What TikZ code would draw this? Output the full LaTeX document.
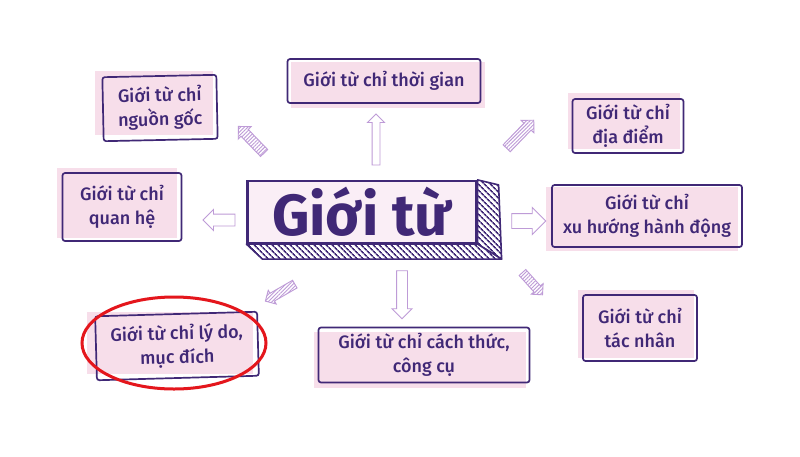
\documentclass[tikz,border=0pt]{standalone}
\usepackage{fontspec}
\setmainfont{Fira Sans Medium}[BoldFont={Fira Sans Bold}]
\usetikzlibrary{shapes.arrows,shapes.geometric,patterns.meta,backgrounds,calc}
\definecolor{ink}{RGB}{64,40,118}
\definecolor{pinkf}{RGB}{247,222,234}
\definecolor{cfill}{RGB}{250,238,246}
\definecolor{arr}{RGB}{190,155,215}
\definecolor{redc}{RGB}{228,22,28}
\begin{document}
\begin{tikzpicture}[x=1pt,y=-1pt,
  box/.style={draw=ink, line width=1.7pt, rounded corners=2.5pt, align=center, text=ink,
    font=\fontsize{18}{24}\selectfont, inner sep=0pt},
  hollowarrow/.style={shape=single arrow, draw=arr, line width=0.9pt, fill=white, inner xsep=0pt,
    single arrow head indent=0pt},
  hatcharrow/.style={shape=single arrow, draw=arr, line width=0.9pt, fill=white, inner xsep=0pt,
    single arrow head indent=0pt,
    postaction={pattern={Lines[angle=45,distance=2.6pt,line width=0.9pt]}, pattern color=arr}},
  hatchface/.style={draw=ink, line width=1.6pt, line join=round, fill=white,
    postaction={pattern={Lines[angle=-45,distance=4pt,line width=1.7pt]}, pattern color=ink}}
]
\useasboundingbox (0,0) rectangle (800,456);

% central box
\node[draw=ink, line width=2.2pt, fill=cfill, minimum width=229pt, minimum height=62pt, inner sep=0pt,
  text=ink, font=\fontsize{58}{62}\selectfont\bfseries] (c) at (362,212) {Giới từ};
\path[hatchface] (c.north east) -- ($(c.north east)+(21,5)$) -- ($(c.south east)+(24,15)$) -- (c.south east) -- cycle;
\path[hatchface] (c.south west) -- (c.south east) -- ($(c.south east)+(24,15)$) -- ($(c.south west)+(16,15)$) -- cycle;

% satellite boxes
\node[box, minimum width=114pt, minimum height=64pt, rotate=1.2] (ng) at (160,108) {Giới từ chỉ\\nguồn gốc};
\node[box, minimum width=193pt, minimum height=44pt] (tg) at (384,81) {Giới từ chỉ thời gian};
\node[box, minimum width=111pt, minimum height=54pt] (dd) at (628,126) {Giới từ chỉ\\địa điểm};
\node[box, minimum width=119pt, minimum height=68pt] (qh) at (122,207) {Giới từ chỉ\\quan hệ};
\node[box, minimum width=190pt, minimum height=62pt] (xh) at (647,216) {Giới từ chỉ\\xu hướng hành động};
\node[box, minimum width=162pt, minimum height=64pt, rotate=1.6] (ld) at (177,346) {Giới từ chỉ lý do,\\mục đích};
\node[box, minimum width=211pt, minimum height=55pt] (ct) at (424,355) {Giới từ chỉ cách thức,\\công cụ};
\node[box, minimum width=114pt, minimum height=66pt] (tn) at (640,328) {Giới từ chỉ\\tác nhân};

\begin{scope}[on background layer]
  \fill[white] (0,0) rectangle (800,456);
  \foreach \n/\dx/\dy in {ng/-6/-5, tg/4/4, dd/-4/-5, qh/-5/-4, xh/-5/3, ld/-7/-3, ct/-4/5, tn/-4/-4}{
    \fill[pinkf] ([shift={(\dx,\dy)}]\n.north west) rectangle ([shift={(\dx,\dy)}]\n.south east);
  }
\end{scope}

% arrows
\node[hollowarrow, minimum height=51pt, inner ysep=3.5pt, single arrow head extend=4.5pt, rotate=90] (aU) at (376,141.5) {};
\node[hollowarrow, minimum height=32pt, inner ysep=5.5pt, single arrow head extend=4.5pt, rotate=180] (aL) at (222,220) {};
\node[hollowarrow, minimum height=34pt, inner ysep=7pt, single arrow head extend=6pt, rotate=0] (aR) at (525,221) {};
\node[hollowarrow, minimum height=48pt, inner ysep=5pt, single arrow head extend=4.5pt, rotate=-90] (aD) at (402,292) {};
\node[hatcharrow, minimum height=39pt, inner ysep=4.5pt, single arrow head extend=4pt, rotate=46] (aNE) at (518.5,136) {};
\node[hatcharrow, minimum height=37pt, inner ysep=4.5pt, single arrow head extend=4pt, rotate=134] (aNW) at (253,141.5) {};
\node[hatcharrow, minimum height=34pt, inner ysep=4pt, single arrow head extend=3.5pt, rotate=210] (aSW) at (282,291.5) {};
\node[hatcharrow, minimum height=30pt, inner ysep=4pt, single arrow head extend=3.5pt, rotate=-48] (aSE) at (531,282) {};

% red highlight
\node[draw=redc, line width=3pt, ellipse, minimum width=184pt, minimum height=92pt, inner sep=0pt] (hl) at (174,343) {};
\end{tikzpicture}
\end{document}
